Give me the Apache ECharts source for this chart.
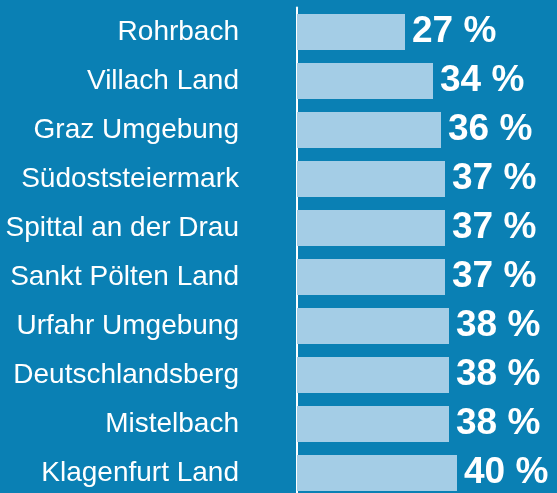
<!DOCTYPE html>
<html><head><meta charset="utf-8">
<script src="https://cdn.jsdelivr.net/npm/echarts@6/dist/echarts.min.js"></script>
<style>html,body{margin:0;padding:0;background:#0a80b4;}#c{width:557px;height:493px;}</style>
</head><body><div id="c"></div>
<script>
const categories = ["Rohrbach","Villach Land","Graz Umgebung","Südoststeiermark","Spittal an der Drau","Sankt Pölten Land","Urfahr Umgebung","Deutschlandsberg","Mistelbach","Klagenfurt Land"];
const values = [27,34,36,37,37,37,38,38,38,40];

const chart = echarts.init(document.getElementById('c'));
chart.setOption({
  backgroundColor: '#0a80b4',
  animation: false,
  grid: {left: 297, top: 7.5, width: 260, height: 490, containLabel: false, outerBoundsMode: 'none'},
  xAxis: {type: 'value', min: 0, max: 65, show: false},
  yAxis: {
    type: 'category', data: categories, inverse: true,
    axisLine: {show: true, lineStyle: {color: '#ffffff', width: 2}},
    axisTick: {show: false},
    axisLabel: {color: '#ffffff', fontFamily: 'Liberation Sans', fontSize: 28, margin: 58}
  },
  series: [{
    type: 'bar', data: values, barWidth: 36,
    itemStyle: {color: '#a4cde6'},
    label: {show: true, position: 'right', distance: 7, color: '#ffffff', fontFamily: 'Liberation Sans', fontWeight: 'bold', fontSize: 37, formatter: p => p.value + ' %'}
  }]
});
</script></body></html>
